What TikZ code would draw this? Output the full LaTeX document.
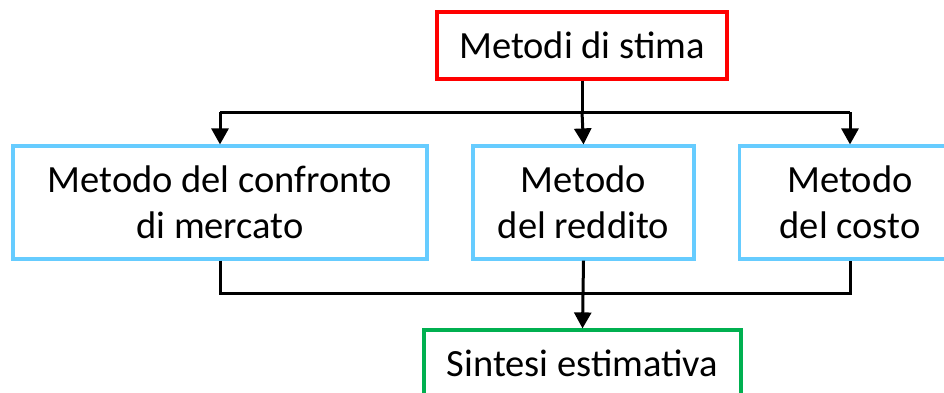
\documentclass[tikz,border=0pt]{standalone}
\usepackage{fontspec}
\setmainfont{Carlito}
\usetikzlibrary{arrows.meta}
\definecolor{boxred}{RGB}{255,0,0}
\definecolor{boxblue}{RGB}{102,204,255}
\definecolor{boxgreen}{RGB}{0,176,80}
\begin{document}
\begin{tikzpicture}[x=1pt,y=-1pt,
  box/.style={draw, line width=3.2pt, rectangle, inner sep=0pt, align=center,
    font=\fontsize{38.5}{46.5}\selectfont},
  link/.style={draw=black, line width=3pt},
  arr/.style={link, -{Triangle[width=17pt,length=16pt]}}]
\useasboundingbox (0,0) rectangle (944,392);
\begin{scope}
\clip (0,0) rectangle (944,392);
\node[box, draw=boxred, minimum width=290pt, minimum height=67pt] (top) at (582,45.5) {Metodi di stima};
\node[box, draw=boxblue, minimum width=414pt, minimum height=113pt] (left) at (220,202.5) {Metodo del confronto\\di mercato};
\node[box, draw=boxblue, minimum width=221pt, minimum height=113pt] (mid) at (583.5,202.5) {Metodo\\del reddito};
\node[box, draw=boxblue, minimum width=221pt, minimum height=113pt] (right) at (850,202.5) {Metodo\\del costo};
\node[box, draw=boxgreen, minimum width=317pt, minimum height=67pt] (bot) at (582.5,363.5) {Sintesi estimativa};
\coordinate (j1) at (583,112);
\coordinate (j2) at (583,293);
\draw[link] (top.south) -- (top.south |- j1);
\draw[link] (left.north |- j1) -- (right.north |- j1);
\draw[arr] (left.north |- j1) -- (left.north);
\draw[arr] (top.south |- j1) -- (mid.north);
\draw[arr] (right.north |- j1) -- (right.north);
\draw[link] (left.south) -- (left.south |- j2) -- (right.south |- j2) -- (right.south);
\draw[arr] (mid.south) -- (bot.north);
\end{scope}
\end{tikzpicture}
\end{document}
